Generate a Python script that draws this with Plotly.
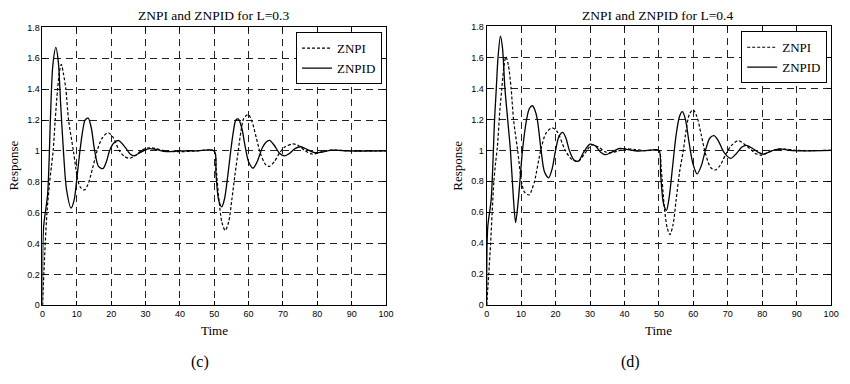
import plotly.graph_objects as go

# ---------------- data ----------------
# Panel (c): L = 0.3
t_pi_c = [0, 0.8, 1.3, 2.0, 2.6, 3.1, 3.7, 4.4, 5.0, 5.5, 6.1, 6.8, 7.6, 9.0, 10.4, 11.2,
          12.2, 13.2, 14.5, 15.9, 17.3, 19.1, 20.5, 22.4, 23.8, 25.3, 27, 29, 31, 33, 36,
          40, 45, 50, 50.5, 51.3, 52.2, 53.2, 54.2, 55.1, 56, 57, 57.8, 58.6, 59.9, 61,
          62.3, 63.5, 65, 66.1, 67.5, 69, 70.5, 72.9, 74.5, 76.5, 78.5, 80, 82, 85, 90, 100]
y_pi_c = [0, 0.4, 0.6, 0.78, 0.9, 1.0, 1.2, 1.4, 1.52, 1.56, 1.5, 1.4, 1.2, 1.0, 0.8, 0.76,
          0.747, 0.78, 0.88, 1.0, 1.08, 1.118, 1.09, 1.0, 0.965, 0.952, 0.97, 1.005, 1.02,
          1.015, 1.0, 0.995, 1.0, 1.0, 0.9, 0.7, 0.54, 0.484, 0.54, 0.68, 0.84, 1.0, 1.13,
          1.21, 1.236, 1.19, 1.08, 0.98, 0.91, 0.9, 0.93, 0.985, 1.025, 1.045, 1.035, 1.0,
          0.98, 0.985, 1.0, 1.005, 1.0, 1.0]
t_pid_c = [0, 0.3, 1.5, 2.3, 3.0, 3.9, 4.6, 5.3, 6.1, 7.0, 8.3, 9.2, 10.0, 10.9, 11.7,
           12.4, 13.3, 14.2, 15.2, 16.3, 17.6, 18.6, 19.5, 20.7, 22.2, 24.2, 25.5, 26.7,
           28.5, 31, 33, 36, 40, 45, 50, 50.5, 51.3, 52.2, 53, 54, 54.8, 55.6, 56.3, 57,
           58, 59, 60, 61.3, 62.5, 64, 65, 66.1, 67.5, 69, 70.4, 72, 73.5, 75.2, 77, 79,
           81, 84, 88, 100]
y_pid_c = [0, 0.5, 0.72, 1.2, 1.55, 1.67, 1.58, 1.3, 1.0, 0.75, 0.63, 0.68, 0.82, 1.0,
           1.13, 1.2, 1.212, 1.15, 1.0, 0.9, 0.885, 0.93, 1.0, 1.05, 1.067, 1.02, 0.98,
           0.968, 0.99, 1.015, 1.01, 0.995, 1.0, 1.0, 1.0, 0.85, 0.68, 0.638, 0.69, 0.85,
           1.0, 1.13, 1.2, 1.207, 1.15, 1.03, 0.93, 0.888, 0.93, 1.02, 1.055, 1.068, 1.035,
           0.985, 0.968, 0.985, 1.015, 1.027, 1.01, 0.99, 0.99, 1.005, 1.0, 1.0]

# Panel (d): L = 0.4
t_pi_d = [0, 0.6, 1.15, 1.6, 2.1, 2.6, 3.1, 3.8, 4.4, 5.0, 5.6, 6.3, 7.1, 7.8, 9.0, 10.1,
          11.0, 12.4, 13.0, 13.9, 15.7, 17.2, 19.0, 20.5, 22.8, 24.8, 26.6, 28.5, 30.5,
          32.5, 34.5, 36, 38, 40, 43, 46, 50, 50.6, 51.5, 52.4, 53.2, 54.1, 55, 56, 57.1,
          57.9, 58.8, 59.9, 61, 62.3, 63.5, 65, 66.3, 67.7, 69.3, 71, 73, 74.8, 76.5, 78,
          79.7, 81.5, 84, 87, 90, 100]
y_pi_d = [0, 0.2, 0.4, 0.6, 0.8, 0.92, 1.02, 1.25, 1.4, 1.54, 1.605, 1.55, 1.4, 1.2, 1.0,
          0.8, 0.73, 0.712, 0.74, 0.8, 1.0, 1.11, 1.145, 1.12, 1.0, 0.94, 0.93, 0.98,
          1.035, 1.02, 0.99, 0.985, 0.995, 1.01, 1.005, 0.998, 1.0, 0.9, 0.65, 0.5, 0.456,
          0.52, 0.68, 0.86, 1.0, 1.13, 1.23, 1.263, 1.22, 1.1, 0.98, 0.89, 0.873, 0.9, 0.97,
          1.03, 1.063, 1.04, 1.01, 0.98, 0.969, 0.985, 1.005, 1.008, 1.0, 1.0]
t_pid_d = [0, 0.3, 1.3, 2.3, 2.8, 3.3, 4.0, 4.6, 5.3, 6.1, 6.9, 7.8, 8.4, 9.2, 10.4, 11.6,
           12.4, 13.3, 14.0, 14.7, 15.8, 16.8, 18.0, 19.0, 20.0, 21.0, 22.1, 23.0, 24.0,
           25.3, 26.6, 28.2, 30.0, 31.5, 33, 34.5, 36.5, 38.5, 41, 44, 47, 50, 50.5, 51.3,
           52.2, 53, 54, 55, 56, 56.8, 57.7, 58.7, 59.8, 61.1, 62.3, 63.5, 64.8, 66.0, 67.3,
           68.8, 70.8, 72.5, 74, 75.4, 77, 79, 80.5, 82.5, 85, 88, 92, 100]
y_pid_d = [0, 0.5, 0.68, 1.2, 1.4, 1.6, 1.737, 1.66, 1.4, 1.2, 1.0, 0.68, 0.534, 0.68,
           1.0, 1.2, 1.27, 1.288, 1.26, 1.2, 1.0, 0.86, 0.823, 0.88, 1.0, 1.09, 1.116, 1.08,
           1.0, 0.94, 0.93, 0.99, 1.04, 1.03, 0.99, 0.972, 0.99, 1.012, 1.005, 0.995, 1.0,
           1.0, 0.85, 0.66, 0.613, 0.7, 0.9, 1.1, 1.22, 1.25, 1.2, 1.06, 0.92, 0.848, 0.9,
           1.0, 1.08, 1.095, 1.06, 0.99, 0.948, 0.98, 1.02, 1.032, 1.015, 0.985, 0.975,
           0.995, 1.01, 1.0, 0.997, 1.0]

x_ticks = [0, 10, 20, 30, 40, 50, 60, 70, 80, 90, 100]
y_ticks = [0, 0.2, 0.4, 0.6, 0.8, 1, 1.2, 1.4, 1.6, 1.8]
titles = ["ZNPI and ZNPID for L=0.3", "ZNPI and ZNPID for L=0.4"]
panel_labels = ["(c)", "(d)"]

# ---------------- figure ----------------
W, H = 850, 384
SERIF = "Liberation Serif, Times New Roman, serif"
SANS = "Liberation Sans, Arial, sans-serif"

fig = go.Figure()

panels = [
    dict(tp=t_pi_c, yp=y_pi_c, td=t_pid_c, yd=y_pid_c, xa="x", ya="y", lg="legend"),
    dict(tp=t_pi_d, yp=y_pi_d, td=t_pid_d, yd=y_pid_d, xa="x2", ya="y2", lg="legend2"),
]
for p in panels:
    fig.add_trace(go.Scatter(x=p["tp"], y=p["yp"], mode="lines", name="ZNPI",
                             line=dict(color="black", width=1.2, dash="3px,2px",
                                       shape="spline", smoothing=0.8),
                             xaxis=p["xa"], yaxis=p["ya"], legend=p["lg"]))
    fig.add_trace(go.Scatter(x=p["td"], y=p["yd"], mode="lines", name="ZNPID",
                             line=dict(color="black", width=1.3,
                                       shape="spline", smoothing=0.8),
                             xaxis=p["xa"], yaxis=p["ya"], legend=p["lg"]))

# plot area pixel boxes
boxes = [(40, 388, 23, 308.3), (490, 839, 22, 308.3)]
label_x = [200, 636]

def xdom(a, b):
    return [a / W, b / W]

def ydom(top, bot):
    return [1 - bot / H, 1 - top / H]

axis_common = dict(showline=True, linecolor="black", linewidth=1, mirror="ticks",
                   ticks="inside", ticklen=4, tickcolor="black", tickwidth=1,
                   showgrid=True, gridcolor="#222", gridwidth=0.8, griddash="7px,5px",
                   zeroline=False, tickfont=dict(family=SANS, size=9, color="black"))

def ann(text, px, py, size, angle=0):
    fig.add_annotation(text=text, x=px / W, y=1 - py / H, xref="paper", yref="paper",
                       xanchor="center", yanchor="middle", showarrow=False,
                       textangle=angle,
                       font=dict(family=SERIF, size=size, color="black"))

for i, (x0, x1, yt, yb) in enumerate(boxes):
    sfx = "" if i == 0 else "2"
    fig.layout["xaxis" + sfx] = dict(axis_common, domain=xdom(x0, x1), range=[0, 100],
                                     tickvals=x_ticks, anchor="y" + sfx)
    fig.layout["yaxis" + sfx] = dict(axis_common, domain=ydom(yt, yb), range=[0, 1.8],
                                     tickvals=y_ticks, anchor="x" + sfx)
    cx = (x0 + x1) / 2
    ann(titles[i], cx - 1, 11, 13.5)
    ann("Time", cx, 334, 13)
    ann("Response", x0 - 29, 165, 13, angle=-90)
    ann(panel_labels[i], label_x[i], 367, 16)

legend_common = dict(bgcolor="white", bordercolor="black", borderwidth=1,
                     font=dict(family=SERIF, size=13, color="black"),
                     xanchor="right", yanchor="top", tracegroupgap=0,
                     itemwidth=30)
fig.update_layout(
    width=W, height=H, margin=dict(l=0, r=0, t=0, b=0),
    paper_bgcolor="white", plot_bgcolor="white",
    legend=dict(legend_common, x=384 / W, y=1 - 28 / H),
    legend2=dict(legend_common, x=835 / W, y=1 - 27 / H),
)

fig.write_html("out.html")
